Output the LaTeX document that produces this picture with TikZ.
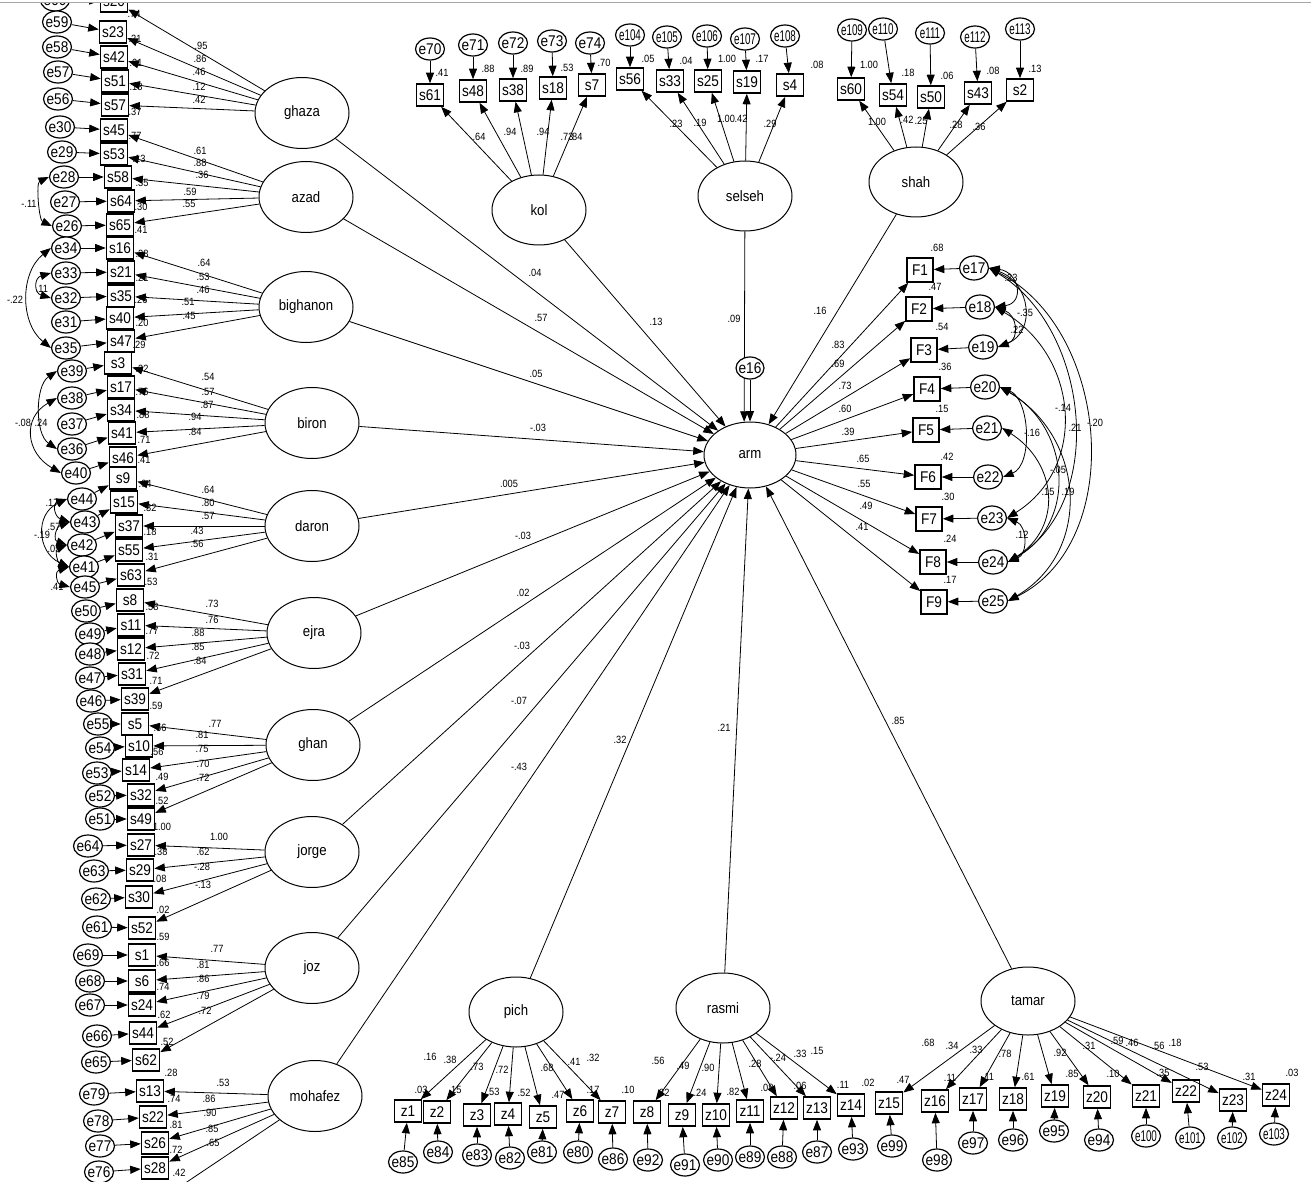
\documentclass[tikz,border=0pt]{standalone}
\usepackage{fontspec}
\usepackage{graphicx}
\setmainfont{Liberation Sans}[FakeStretch=0.88]
\usetikzlibrary{arrows.meta,shapes.geometric}
\begin{document}
\begin{tikzpicture}[x=1pt,y=-1pt,
 >={Triangle[length=10.5pt,width=8pt]},
 arr/.style={->, line width=0.8pt},
 darr/.style={<->, line width=0.8pt},
 obs/.style={draw, line width=1.6pt, fill=white, minimum width=27pt, minimum height=22pt, inner sep=1pt, font=\fontsize{15.5}{15.5}\selectfont},
 evar/.style={ellipse, draw, line width=1.2pt, fill=white, minimum width=29pt, minimum height=22pt, inner sep=0pt, font=\fontsize{15.5}{15.5}\selectfont},
 lat/.style={ellipse, draw, line width=1pt, fill=white, minimum width=94pt, minimum height=71pt, inner sep=0pt, font=\fontsize{15}{15}\selectfont},
 num/.style={inner sep=0pt, font=\fontsize{10.5}{10.5}\selectfont},
]
\fill[white] (0,0) rectangle (1311,1182);
\useasboundingbox (0,0) rectangle (1311,1182);
\draw[black!35, line width=1pt] (0,3) -- (1311,3);
\begin{scope}
\clip (0,4) rectangle (1311,1182);

% ---------- latent variables ----------
\node[lat] (ghaza) at (302,113) {ghaza};
\node[lat] (azad) at (306,197) {azad};
\node[lat] (bighanon) at (306,307) {bighanon};
\node[lat] (biron) at (312,423) {biron};
\node[lat] (daron) at (312,526) {daron};
\node[lat] (ejra) at (314,633) {ejra};
\node[lat] (ghan) at (313,745) {ghan};
\node[lat] (jorge) at (312,852) {jorge};
\node[lat] (joz) at (312,968) {joz};
\node[lat] (mohafez) at (315,1096) {mohafez};
\node[lat, minimum height=70pt] (kol) at (539,210) {kol};
\node[lat, minimum height=70pt] (selseh) at (745,196) {selseh};
\node[lat, minimum height=70pt] (shah) at (916,182) {shah};
\node[lat, minimum height=70pt] (pich) at (516,1012) {pich};
\node[lat, minimum height=70pt] (rasmi) at (723,1008) {rasmi};
\node[lat, minimum height=68pt] (tamar) at (1028,1001) {tamar};
\node[lat, minimum width=92pt, minimum height=66pt] (arm) at (750,455) {arm};

% ---------- left column indicators ----------
\foreach \nm/\xx/\yy/\ee/\ex/\ey/\qq in {
s20/114/1/e60/55/0/.90, s23/113/32/e59/57/22/.74, s42/114/57/e58/57/47/.21,
s51/115/81/e57/58/72/.01, s57/115/105/e56/58/99/.18, s45/114/130/e30/60/127/.37,
s53/114/154/e29/62/152/.77, s58/118/177/e28/64/177/.13, s64/121/201/e27/65/202/.35,
s65/120/225/e26/67/226/.30, s16/120/248/e34/66/248/.41, s21/121/272/e33/66/273/.28,
s35/121/296/e32/66/298/.21, s40/120/318/e31/66/322/.26, s47/121/341/e35/66/348/.20,
s3/118/363/e39/72/371/.29, s17/121/387/e38/72/398/.32, s34/121/410/e37/72/424/.76,
s41/122/433/e36/72/449/.88, s46/123/458/e40/76/473/.71, s9/123/478/e44/82/499/.41,
s15/124/502/e43/85/522/.64, s37/129/526/e42/82/545/.32, s55/129/550/e41/84/567/.18,
s63/131/575/e45/85/587/.31, s8/130/600/e50/86/611/.53, s11/131/625/e49/90/634/.58,
s12/131/649/e48/90/654/.77, s31/132/674/e47/90/678/.72, s39/135/699/e46/91/701/.71,
s5/135/724/e55/98/724/.59, s10/139/746/e54/100/748/.66, s14/136/770/e53/97/773/.56,
s32/141/795/e52/100/796/.49, s49/141/819/e51/100/819/.52, s27/141/845/e64/88/846/1.00,
s29/140/870/e63/94/871/.38, s30/139/897/e62/96/899/.08, s52/142/928/e61/97/927/.02,
s1/142/955/e69/88/955/.59, s6/142/981/e68/90/981/.66, s24/142/1005/e67/90/1005/.74,
s44/143/1033/e66/97/1036/.62, s62/146/1060/e65/96/1062/.52, s13/150/1091/e79/94/1094/.28,
s22/153/1117/e78/98/1121/.74, s26/155/1143/e77/100/1146/.81, s28/155/1168/e76/99/1172/.72}
{
 \node[obs] (\nm) at (\xx,\yy) {\nm};
 \node[evar] (\ee) at (\ex,\ey) {\makebox[0pt]{\ee}};
 \node[num] (r\nm) at ({\xx+21},{\yy-18}) {\qq};
 \draw[arr] (\ee) -- (\nm);
}
\coordinate (mcut) at (166,1196);
\node[num] (rmcut) at (179,1173) {.42};

% ---------- left loadings ----------
\foreach \tg/\lx/\ly/\vv in {s20/201/46/.95, s23/200/59/.86, s42/199/72/.46, s51/199/87/.12, s57/199/100/.42}
 {\draw[arr] (ghaza) -- (\tg); \node[num] (L\tg) at (\lx,\ly) {\vv};}
\foreach \tg/\lx/\ly/\vv in {s45/200/151/.61, s53/200/163/.88, s58/202/175/.36, s64/190/192/.59, s65/189/204/.55}
 {\draw[arr] (azad) -- (\tg); \node[num] (L\tg) at (\lx,\ly) {\vv};}
\foreach \tg/\lx/\ly/\vv in {s16/204/263/.64, s21/203/277/.53, s35/203/290/.46, s40/188/302/.51, s47/189/316/.45}
 {\draw[arr] (bighanon) -- (\tg); \node[num] (L\tg) at (\lx,\ly) {\vv};}
\foreach \tg/\lx/\ly/\vv in {s3/208/377/.54, s17/208/392/.57, s34/207/405/.87, s41/195/417/.94, s46/195/432/.84}
 {\draw[arr] (biron) -- (\tg); \node[num] (L\tg) at (\lx,\ly) {\vv};}
\foreach \tg/\lx/\ly/\vv in {s9/208/490/.64, s15/208/503/.80, s37/208/516/.57, s55/197/531/.43, s63/197/544/.56}
 {\draw[arr] (daron) -- (\tg); \node[num] (L\tg) at (\lx,\ly) {\vv};}
\foreach \tg/\lx/\ly/\vv in {s8/212/604/.73, s11/212/620/.76, s12/198/633/.88, s31/198/647/.85, s39/200/661/.84}
 {\draw[arr] (ejra) -- (\tg); \node[num] (L\tg) at (\lx,\ly) {\vv};}
\foreach \tg/\lx/\ly/\vv in {s5/215/724/.77, s10/202/735/.81, s14/202/749/.75, s32/203/764/.70, s49/203/778/.72}
 {\draw[arr] (ghan) -- (\tg); \node[num] (L\tg) at (\lx,\ly) {\vv};}
\foreach \tg/\lx/\ly/\vv in {s27/219/837/1.00, s29/203/852/.62, s30/202/867/-.28, s52/203/885/-.13}
 {\draw[arr] (jorge) -- (\tg); \node[num] (L\tg) at (\lx,\ly) {\vv};}
\foreach \tg/\lx/\ly/\vv in {s1/217/949/.77, s6/203/965/.81, s24/203/979/.86, s44/203/996/.79, s62/205/1011/.72}
 {\draw[arr] (joz) -- (\tg); \node[num] (L\tg) at (\lx,\ly) {\vv};}
\foreach \tg/\lx/\ly/\vv in {s13/223/1083/.53, s22/209/1099/.86, s26/210/1113/.90, s28/212/1129/.85, mcut/213/1143/.65}
 {\draw[arr] (mohafez) -- (\tg); \node[num] (L\tg) at (\lx,\ly) {\vv};}

% ---------- top indicators ----------
\foreach \nm/\xx/\yy/\ee/\ex/\ey/\fs/\rx/\ry/\qq in {
s61/430/95/e70/430/49/1/442/73/.41, s48/473/91/e71/473/45/1/488/69/.88,
s38/513/90/e72/513/43/1/527/69/.89, s18/553/88/e73/552/41/1/567/68/.53,
s7/592/85/e74/590/43/1/604/63/.70, s56/630/79/e104/630/35/0.72/648/59/.05,
s33/670/81/e105/667/37/0.72/686/61/.04, s25/708/81/e106/707/36/0.72/727/59/1.00,
s19/747/82/e107/745/39/0.72/762/59/.17, s4/790/85/e108/785/36/0.72/817/65/.08,
s60/851/89/e109/852/30/0.72/869/65/1.00, s54/893/95/e110/883/29/0.72/908/73/.18,
s50/931/97/e111/930/33/0.72/947/76/.06, s43/978/93/e112/975/37/0.72/993/71/.08,
s2/1020/90/e113/1020/29/0.72/1035/69/.13}
{
 \node[obs] (\nm) at (\xx,\yy) {\nm};
 \node[evar] (\ee) at (\ex,\ey) {\makebox[0pt]{\scalebox{\fs}[1]{\ee}}};
 \node[num] (r\nm) at (\rx,\ry) {\qq};
 \draw[arr] (\ee) -- (\nm);
}
\foreach \tg/\lx/\ly/\vv in {s61/479/137/.64, s48/510/132/.94, s38/543/132/.94, s18/567/137/.73, s7/576/137/.84}
 {\draw[arr] (kol) -- (\tg); \node[num] (L\tg) at (\lx,\ly) {\vv};}
\foreach \tg/\lx/\ly/\vv in {s56/676/124/.23, s33/700/123/.19, s25/726/119/1.00, s19/741/119/.42, s4/770/124/.29}
 {\draw[arr] (selseh) -- (\tg); \node[num] (L\tg) at (\lx,\ly) {\vv};}
\foreach \tg/\lx/\ly/\vv in {s60/877/122/1.00, s54/907/120/.42, s50/921/121/.25, s43/956/125/.28, s2/979/127/.36}
 {\draw[arr] (shah) -- (\tg); \node[num] (L\tg) at (\lx,\ly) {\vv};}

% ---------- bottom indicators ----------
\foreach \nm/\xx/\yy/\ee/\ex/\ey/\fs/\rx/\ry/\qq in {
z1/408/1111/e85/403/1162/1/421/1090/.03, z2/437/1112/e84/438/1152/1/455/1090/.15,
z3/477/1115/e83/477/1155/1/493/1092/.53, z4/508/1114/e82/510/1158/1/524/1093/.52,
z5/543/1117/e81/542/1152/1/558/1095/.47, z6/580/1111/e80/578/1152/1/593/1090/.17,
z7/612/1112/e86/613/1159/1/628/1090/.10, z8/647/1112/e92/648/1160/1/663/1093/.32,
z9/682/1115/e91/685/1165/1/700/1093/.24, z10/716/1115/e90/718/1160/1/733/1092/.82,
z11/750/1111/e89/750/1157/1/767/1088/.08, z12/784/1108/e88/782/1157/1/800/1086/.06,
z13/817/1108/e87/817/1152/1/843/1085/.11, z14/851/1105/e93/853/1149/1/868/1083/.02,
z15/889/1103/e99/892/1146/1/903/1080/.47, z16/935/1101/e98/937/1160/1/950/1078/.11,
z17/973/1099/e97/973/1143/1/988/1077/.11, z18/1013/1099/e96/1013/1140/1/1028/1077/.61,
z19/1055/1096/e95/1054/1131/1/1072/1074/.85, z20/1097/1097/e94/1099/1140/1/1113/1074/.10,
z21/1146/1096/e100/1146/1136/0.72/1163/1073/.35, z22/1186/1091/e101/1190/1138/0.72/1202/1067/.53,
z23/1233/1100/e102/1232/1138/0.72/1249/1077/.31, z24/1276/1095/e103/1274/1134/0.72/1292/1073/.03}
{
 \node[obs] (\nm) at (\xx,\yy) {\nm};
 \node[evar] (\ee) at (\ex,\ey) {\makebox[0pt]{\scalebox{\fs}[1]{\ee}}};
 \node[num] (r\nm) at (\rx,\ry) {\qq};
 \draw[arr] (\ee) -- (\nm);
}
\foreach \tg/\lx/\ly/\vv in {z1/430/1057/.16, z2/450/1060/.38, z3/477/1067/.73, z4/502/1070/.72, z5/547/1068/.68, z6/574/1062/.41, z7/593/1058/.32}
 {\draw[arr] (pich) -- (\tg); \node[num] (L\tg) at (\lx,\ly) {\vv};}
\foreach \tg/\lx/\ly/\vv in {z8/658/1061/.56, z9/683/1066/.49, z10/708/1068/.90, z11/755/1064/.28, z12/778/1058/-.24, z13/800/1054/.33, z14/817/1051/.15}
 {\draw[arr] (rasmi) -- (\tg); \node[num] (L\tg) at (\lx,\ly) {\vv};}
\foreach \tg/\lx/\ly/\vv in {z15/928/1043/.68, z16/952/1046/.34, z17/976/1050/.33, z18/1005/1054/.78, z19/1060/1053/.92, z20/1089/1046/.31, z21/1117/1041/.59, z22/1132/1043/.46, z23/1158/1046/.56, z24/1175/1043/.18}
 {\draw[arr] (tamar) -- (\tg); \node[num] (L\tg) at (\lx,\ly) {\vv};}

% ---------- F block ----------
\foreach \nm/\xx/\yy/\ee/\ex/\ey/\rx/\ry/\qq/\lx/\ly/\vv in {
F1/920/270/e17/974/268/937/248/.68/838/345/.83, F2/919/309/e18/980/307/935/287/.47/838/364/.69,
F3/924/350/e19/983/347/942/327/.54/845/386/.73, F4/927/389/e20/985/387/945/367/.36/845/409/.60,
F5/926/430/e21/987/428/942/409/.15/848/432/.39, F6/928/477/e22/988/477/947/457/.42/863/459/.65,
F7/929/519/e23/992/518/948/497/.30/864/484/.55, F8/933/562/e24/993/562/950/539/.24/866/506/.49,
F9/934/602/e25/993/601/950/580/.17/862/527/.41}
{
 \node[obs, minimum width=26pt, minimum height=24pt] (\nm) at (\xx,\yy) {\nm};
 \node[evar, minimum height=24pt] (\ee) at (\ex,\ey) {\makebox[0pt]{\ee}};
 \node[num] (r\nm) at (\rx,\ry) {\qq};
 \draw[arr] (\ee) -- (\nm);
 \draw[arr] (arm) -- (\nm);
 \node[num] (L\nm) at (\lx,\ly) {\vv};
}

% ---------- structural paths ----------
\draw[arr] (selseh) -- (arm.100);
\node[num] (Pselseh) at (734,319) {.09};
\node[evar, minimum width=28pt] (e16) at (750,368) {\makebox[0pt]{e16}};
\draw[arr] (e16) -- (arm.90);
\foreach \aa/\lx/\ly/\vv in {ghaza/535/273/.04, azad/541/318/.57, bighanon/536/374/.05, biron/538/428/-.03,
 daron/509/484/.005, ejra/523/536/-.03, ghan/523/593/.02, jorge/522/646/-.03, joz/519/701/-.07,
 mohafez/519/767/-.43, kol/656/322/.13, shah/820/311/.16, pich/620/740/.32, rasmi/724/728/.21, tamar/898/721/.85}
 {\draw[arr] (\aa) -- (arm); \node[num] (P\aa) at (\lx,\ly) {\vv};}

% ---------- covariances, left ----------
\draw[darr] (e28.west) .. controls +(-13,6) and +(-13,-6) .. (e26.west);
\node[num] (c1) at (29,204) {-.11};
\draw[darr] (e34.west) .. controls +(-31,25) and +(-31,-25) .. (e35.west);
\node[num] (c2) at (15,300) {-.22};
\draw[darr] (e33.west) .. controls +(-17,5) and +(-17,-5) .. (e32.west);
\node[num] (c3) at (42,289) {.11};
\draw[darr] (e39.west) .. controls +(-22,15) and +(-22,-15) .. (e36.west);
\node[num] (c4) at (41,423) {.24};
\draw[darr] (e38.west) .. controls +(-35,20) and +(-35,-20) .. (e40.west);
\node[num] (c5) at (23,423) {-.08};
\draw[darr] (e44.west) .. controls +(-15,5) and +(-15,-5) .. (e43.west);
\node[num] (c6) at (52,503) {.17};
\draw[darr] (e44.west) .. controls +(-32,15) and +(-32,-15) .. (e41.west);
\node[num] (c7) at (42,535) {-.19};
\draw[darr] (e43.west) .. controls +(-14,5) and +(-14,-5) .. (e42.west);
\node[num] (c8) at (54,527) {.57};
\draw[darr] (e42.west) .. controls +(-12,5) and +(-12,-5) .. (e41.west);
\node[num] (c9) at (54,549) {.05};
\draw[darr] (e41.west) .. controls +(-14,4) and +(-14,-4) .. (e45.west);
\node[num] (c10) at (57,587) {.41};

% ---------- covariances, right ----------
\draw[darr] (e17.east) .. controls +(30,4) and +(30,-4) .. (e18.east);
\node[num] (c11) at (1011,278) {.23};
\draw[darr] (e17.east) .. controls +(42,15) and +(38,-15) .. (e19.east);
\node[num] (c12) at (1025,313) {-.35};
\draw[darr] (e18.east) .. controls +(22,8) and +(22,-8) .. (e19.east);
\node[num] (c13) at (1017,330) {.22};
\draw[darr] (e17.east) .. controls +(120,60) and +(120,-60) .. (e25.east);
\node[num] (c14) at (1095,423) {-.20};
\draw[darr] (e17.east) .. controls +(100,60) and +(100,-60) .. (e24.east);
\node[num] (c15) at (1075,428) {.21};
\draw[darr] (e18.east) .. controls +(85,50) and +(80,-50) .. (e23.east);
\node[num] (c16) at (1063,408) {-.14};
\draw[darr] (e20.east) .. controls +(30,12) and +(30,-12) .. (e22.east);
\node[num] (c17) at (1032,433) {-.16};
\draw[darr] (e20.east) .. controls +(70,40) and +(70,-40) .. (e24.east);
\node[num] (c18) at (1058,470) {-.05};
\draw[darr] (e21.east) .. controls +(55,35) and +(55,-35) .. (e24.east);
\node[num] (c19) at (1048,492) {.15};
\draw[darr] (e20.east) .. controls +(85,50) and +(85,-50) .. (e25.east);
\node[num] (c20) at (1068,492) {.19};
\draw[darr] (e23.east) .. controls +(20,8) and +(20,-8) .. (e24.east);
\node[num] (c21) at (1022,535) {.12};
\end{scope}
\end{tikzpicture}
\end{document}
